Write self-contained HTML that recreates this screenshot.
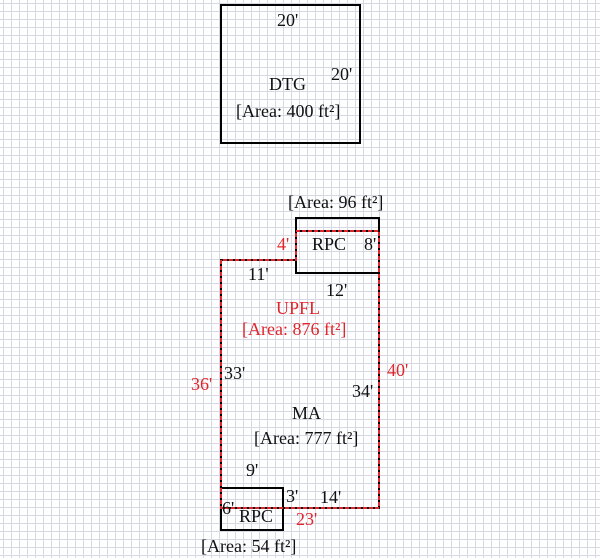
<!DOCTYPE html>
<html><head><style>
body{margin:0;width:600px;height:558px;overflow:hidden;background-color:#fff;
background-image:linear-gradient(to right,#d6d9e4 1px,transparent 1px),linear-gradient(to bottom,#d6d9e4 1px,transparent 1px);
background-size:8px 8px;background-position:3px 3px;}
svg{position:absolute;left:0;top:0}
text{font-family:"Liberation Serif",serif;font-size:18px}
</style></head><body>
<svg width="600" height="558">
<rect x="221" y="5" width="139" height="138" fill="none" stroke="#000" stroke-width="2"/>
<rect x="296" y="218" width="83" height="55" fill="none" stroke="#000" stroke-width="2"/>
<rect x="221" y="488" width="62" height="42" fill="none" stroke="#000" stroke-width="2"/>
<path d="M296 231 H379 V508 H221 V260 H296 Z" fill="none" stroke="#000" stroke-width="2"/>
<path d="M296 231 H379 V508 H221 V260 H296 Z" fill="none" stroke="#e0252b" stroke-width="2" stroke-dasharray="4,2"/>
<g fill="#111">
<text x="277" y="26">20'</text>
<text x="331" y="80">20'</text>
<text x="269" y="90">DTG</text>
<text x="236" y="117">[Area: 400 ft²]</text>
<text x="288" y="208">[Area: 96 ft²]</text>
<text x="312" y="250">RPC</text>
<text x="364" y="250">8'</text>
<text x="248" y="280">11'</text>
<text x="326" y="296">12'</text>
<text x="224" y="379">33'</text>
<text x="352" y="397">34'</text>
<text x="292" y="419">MA</text>
<text x="254" y="444">[Area: 777 ft²]</text>
<text x="246" y="476">9'</text>
<text x="286" y="502">3'</text>
<text x="320" y="503">14'</text>
<text x="222" y="514">6'</text>
<text x="239" y="522">RPC</text>
<text x="201" y="552">[Area: 54 ft²]</text>
</g>
<g fill="#e0252b">
<text x="277" y="250">4'</text>
<text x="276" y="314">UPFL</text>
<text x="242" y="335">[Area: 876 ft²]</text>
<text x="191" y="390">36'</text>
<text x="387" y="376">40'</text>
<text x="296" y="525">23'</text>
</g>
</svg>
</body></html>
